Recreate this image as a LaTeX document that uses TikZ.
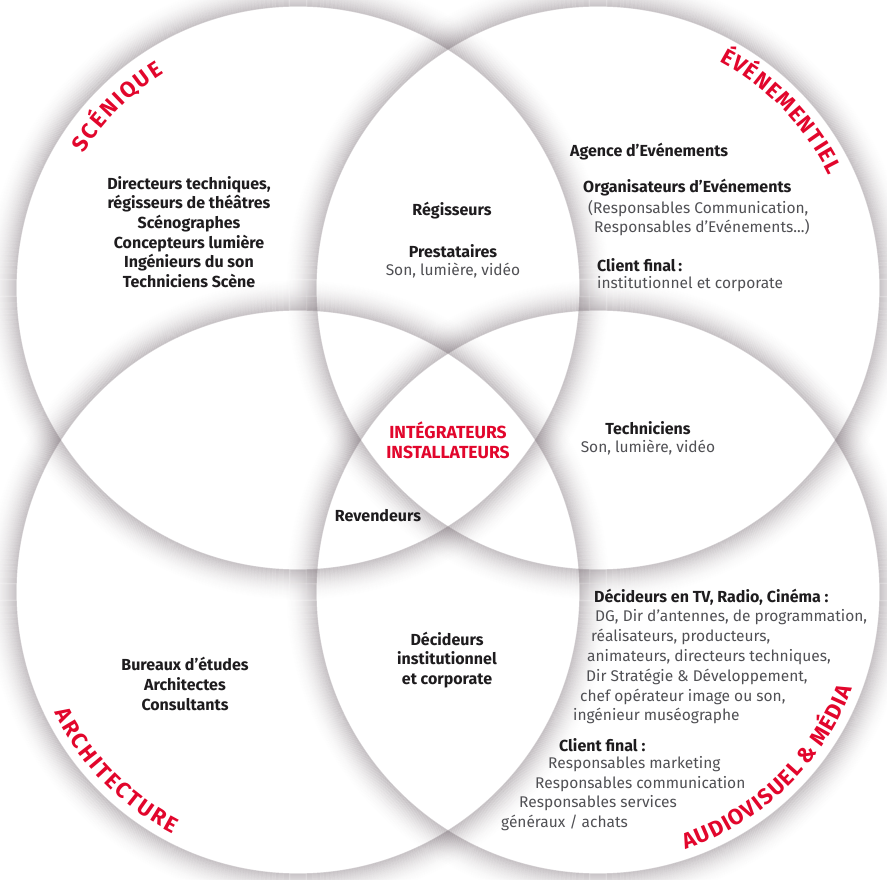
\documentclass[tikz,border=0pt]{standalone}
\usepackage{fontspec}
\setmainfont{Fira Sans}
\usetikzlibrary{decorations.text}
\definecolor{labelred}{RGB}{226,6,44}
\definecolor{ink}{RGB}{30,28,30}
\definecolor{softgray}{RGB}{80,80,84}
\definecolor{shadowtone}{RGB}{105,92,100}
\newcommand\bigred{\fontsize{22}{26}\selectfont\bfseries\color{labelred}}
\newcommand\gap{\kern2.2pt}
\newcommand\smallgap{\kern1.3pt}
\begin{document}
\begin{tikzpicture}[x=1pt,y=1pt,
    head/.style  = {font=\fontsize{16}{19.6}\selectfont\bfseries, text=ink, align=center, inner sep=0pt},
    plain/.style = {font=\fontsize{15.5}{19.6}\selectfont, text=softgray, align=center, inner sep=0pt},
    core/.style  = {font=\fontsize{17.5}{20}\selectfont\bfseries, text=labelred, align=center, inner sep=0pt},
    arclabel/.style = {decorate, decoration={text along path, text align=center, text={|\bigred|#1}}}]
    \fill[white] (0,0) rectangle (887,879);
    \useasboundingbox (0,0) rectangle (887,879);

    \coordinate (sc) at (298,591);
    \coordinate (ev) at (598,591);
    \coordinate (ar) at (298,287);
    \coordinate (av) at (598,287);

    % soft shadows round the four circles
    \foreach \cen in {sc,ev,ar,av}{
        \foreach \k in {0,...,31}{
            \pgfmathsetmacro\op{0.3*(1-\k/32)^2}
            \draw[shadowtone, line width=1.2pt, opacity=\op] (\cen) circle (282+\k);
        }
    }

    % labels along the rims
    \path[arclabel={S{\gap}C{\gap}É{\gap}N{\gap}I{\gap}Q{\gap}U{\gap}E}] (sc) ++(168:253) arc[start angle=168, end angle=102, radius=253];
    \path[arclabel={É{\smallgap}V{\smallgap}É{\smallgap}N{\smallgap}E{\smallgap}M{\smallgap}E{\smallgap}N{\smallgap}T{\smallgap}I{\smallgap}E{\smallgap}L}] (ev) ++(76:257) arc[start angle=76, end angle=12, radius=257];
    \path[arclabel={A{\gap}R{\gap}C{\gap}H{\gap}I{\gap}T{\gap}E{\gap}C{\gap}T{\gap}U{\gap}R{\gap}E}] (ar) ++(188:272) arc[start angle=188, end angle=261, radius=272];
    \path[arclabel={A{\smallgap}U{\smallgap}D{\smallgap}I{\smallgap}O{\smallgap}V{\smallgap}I{\smallgap}S{\smallgap}U{\smallgap}E{\smallgap}L {\&} M{\smallgap}É{\smallgap}D{\smallgap}I{\smallgap}A}] (av) ++(-84:272) arc[start angle=-84, end angle=-8, radius=272];

    % scénique
    \node[head] (scenique) at (189,647) {Directeurs techniques,\\régisseurs de théâtres\\Scénographes\\Concepteurs lumière\\Ingénieurs du son\\Techniciens Scène};

    % scénique / événementiel
    \node[head] (regisseurs) at (452,668) {Régisseurs};
    \node[head] (prestataires) at (453,628) {Prestataires};
    \node[plain] (prestason) at (453,608) {Son, lumière, vidéo};

    % événementiel
    \node[head, anchor=west] (agence) at (570,727) {Agence d’Evénements};
    \node[head, anchor=west] (organis) at (583,691) {Organisateurs d’Evénements};
    \node[plain, anchor=west] (respcom) at (588,670) {(Responsables Communication,};
    \node[plain, anchor=west] (respev) at (594,651) {Responsables d’Evénements...)};
    \node[head, anchor=west] (clientev) at (597,614) {Client final\,:};
    \node[plain, anchor=west] (instev) at (597,595) {institutionnel et corporate};

    % centre
    \node[core] (integ) at (448,439) {INTÉGRATEURS\\INSTALLATEURS};
    \node[head] (techniciens) at (648,451) {Techniciens};
    \node[plain] (techson) at (648,431) {Son, lumière, vidéo};
    \node[head] (revendeurs) at (378,363) {Revendeurs};

    % architecture
    \node[head] (bureaux) at (185,195) {Bureaux d’études\\Architectes\\Consultants};
    \node[head] (decinst) at (447,219) {Décideurs\\institutionnel\\et corporate};

    % audiovisuel & média
    \node[head, anchor=west] (decmedia) at (594,282) {Décideurs en TV, Radio, Cinéma :};
    \node[plain, anchor=west] (dg) at (595,262) {DG, Dir d’antennes, de programmation,};
    \node[plain, anchor=west] (realis) at (591,242) {réalisateurs, producteurs,};
    \node[plain, anchor=west] (anim) at (587,222) {animateurs, directeurs techniques,};
    \node[plain, anchor=west] (strat) at (586,202) {Dir Stratégie \& Développement,};
    \node[plain, anchor=west] (chef) at (580,182) {chef opérateur image ou son,};
    \node[plain, anchor=west] (museo) at (573,163) {ingénieur muséographe};
    \node[head, anchor=west] (clientav) at (559,134) {Client final :};
    \node[plain, anchor=west] (marketing) at (548,115) {Responsables marketing};
    \node[plain, anchor=west] (communic) at (535,95) {Responsables communication};
    \node[plain, anchor=west] (services) at (519,76) {Responsables services};
    \node[plain, anchor=west] (achats) at (501,56) {généraux / achats};
\end{tikzpicture}
\end{document}
